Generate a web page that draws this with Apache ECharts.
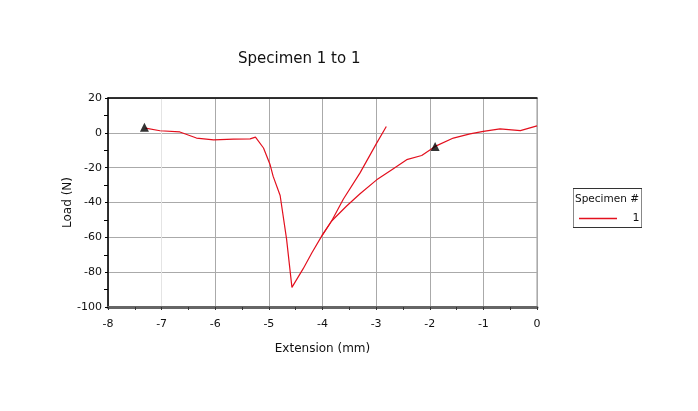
<!DOCTYPE html>
<html><head><meta charset="utf-8">
<script src="https://cdn.jsdelivr.net/npm/echarts@6/dist/echarts.min.js"></script>
<style>html,body{margin:0;padding:0;background:#fff}#c{width:698px;height:411px}</style>
</head><body><div id="c"></div>
<script>
const xMain = [-7.30,-7.03,-6.66,-6.35,-6.03,-5.66,-5.35,-5.25,-5.10,-4.98,-4.92,-4.79,-4.67,-4.57,-4.36,-4.20,-4.01,-3.83,-3.55,-3.30,-2.99,-2.70,-2.43,-2.15,-1.90,-1.56,-1.25,-1.00,-0.69,-0.31,0];
const yMain = [2.7,1.2,0.5,-3,-4,-3.6,-3.5,-2.5,-8.7,-18,-25,-36,-61,-88.7,-78,-69,-59,-50.6,-42,-35,-27,-21,-15.4,-13,-7.8,-3,-0.6,0.8,2.3,1.3,4];
const xBranch = [-4.01,-3.83,-3.61,-3.30,-2.99,-2.81];
const yBranch = [-59,-50.6,-38,-23,-5.9,3.6];
const xTri = [-7.32,-1.90];
const yTri = [3.2,-7.8];
const xTicks = [-8,-7,-6,-5,-4,-3,-2,-1,0];
const yTicks = [-100,-80,-60,-40,-20,0,20];
const seriesName = '1';

const pairs = (xs, ys) => xs.map((x, i) => [x, ys[i]]);
const font = 'DejaVu Sans';
const chart = echarts.init(document.getElementById('c'));
chart.setOption({
  animation: false,
  backgroundColor: '#fff',
  title: { text: 'Specimen 1 to 1', left: 233, top: 47,
    textStyle: { fontFamily: font, fontSize: 15, fontWeight: 'normal', color: '#111' } },
  grid: { left: 108, right: 161, top: 98, bottom: 104, show: true, borderColor: '#999', borderWidth: 1 },
  legend: { data: [{ name: seriesName, icon: 'rect' }], left: 574, top: 208, itemWidth: 38, itemHeight: 1.5,
    formatter: '   1', textStyle: { fontFamily: font, fontSize: 11, color: '#111' } },
  graphic: [
    { type: 'rect', shape: { x: 573.5, y: 188.5, width: 68, height: 39 }, style: { fill: 'none', stroke: '#888', lineWidth: 1 } },
    { type: 'line', shape: { x1: 573, y1: 188.5, x2: 642, y2: 188.5 }, style: { stroke: '#333', lineWidth: 1 } },
    { type: 'line', shape: { x1: 573, y1: 227.5, x2: 642, y2: 227.5 }, style: { stroke: '#333', lineWidth: 1 } },
    { type: 'text', left: 575, top: 194, style: { text: 'Specimen #', font: '10.5px DejaVu Sans', fill: '#111' } }
  ],
  xAxis: [{
    type: 'value', min: xTicks[0], max: xTicks[xTicks.length - 1], interval: 1,
    name: 'Extension (mm)', nameLocation: 'middle', nameGap: 36,
    nameTextStyle: { fontFamily: font, fontSize: 12, color: '#111' },
    axisLine: { onZero: false, lineStyle: { color: '#666', width: 3 } },
    axisTick: { inside: false, length: 3, lineStyle: { color: '#333' } },
    minorTick: { show: true, splitNumber: 2, length: 3, lineStyle: { color: '#333' } },
    axisLabel: { fontFamily: font, fontSize: 11, color: '#111', margin: 12 },
    splitLine: { show: true, lineStyle: { color: ['#aaa', '#e4e4e4', '#aaa', '#aaa', '#aaa', '#aaa', '#aaa', '#aaa', '#aaa'] } }
  }, {
    type: 'value', position: 'top', min: xTicks[0], max: xTicks[xTicks.length - 1], interval: 1,
    axisLine: { show: true, onZero: false, lineStyle: { color: '#000', width: 1.5 } },
    axisTick: { show: false }, axisLabel: { show: false }, splitLine: { show: false }
  }],
  yAxis: {
    type: 'value', min: yTicks[0], max: yTicks[yTicks.length - 1], interval: 20,
    name: 'Load (N)', nameLocation: 'middle', nameGap: 34, nameRotate: 90, nameMoveOverlap: false,
    nameTextStyle: { fontFamily: font, fontSize: 12, color: '#111' },
    axisLine: { show: true, onZero: false, lineStyle: { color: '#000', width: 1.5 } },
    axisTick: { show: true, length: 3, lineStyle: { color: '#000' } },
    minorTick: { show: true, splitNumber: 2, length: 4, lineStyle: { color: '#000' } },
    axisLabel: { fontFamily: font, fontSize: 11, color: '#111', margin: 6 },
    splitLine: { show: true, lineStyle: { color: '#aaa' } }
  },
  series: [
    { name: seriesName, type: 'line', data: pairs(xMain, yMain), symbol: 'none',
      lineStyle: { color: '#e3101e', width: 1.2 }, itemStyle: { color: '#e3101e' } },
    { name: seriesName, type: 'line', data: pairs(xBranch, yBranch), symbol: 'none',
      lineStyle: { color: '#e3101e', width: 1.2 }, itemStyle: { color: '#e3101e' } },
    { name: 'markers', type: 'scatter', data: pairs(xTri, yTri), symbol: 'triangle', symbolSize: 9,
      itemStyle: { color: '#000' }, z: 5 }
  ]
});
</script></body></html>
